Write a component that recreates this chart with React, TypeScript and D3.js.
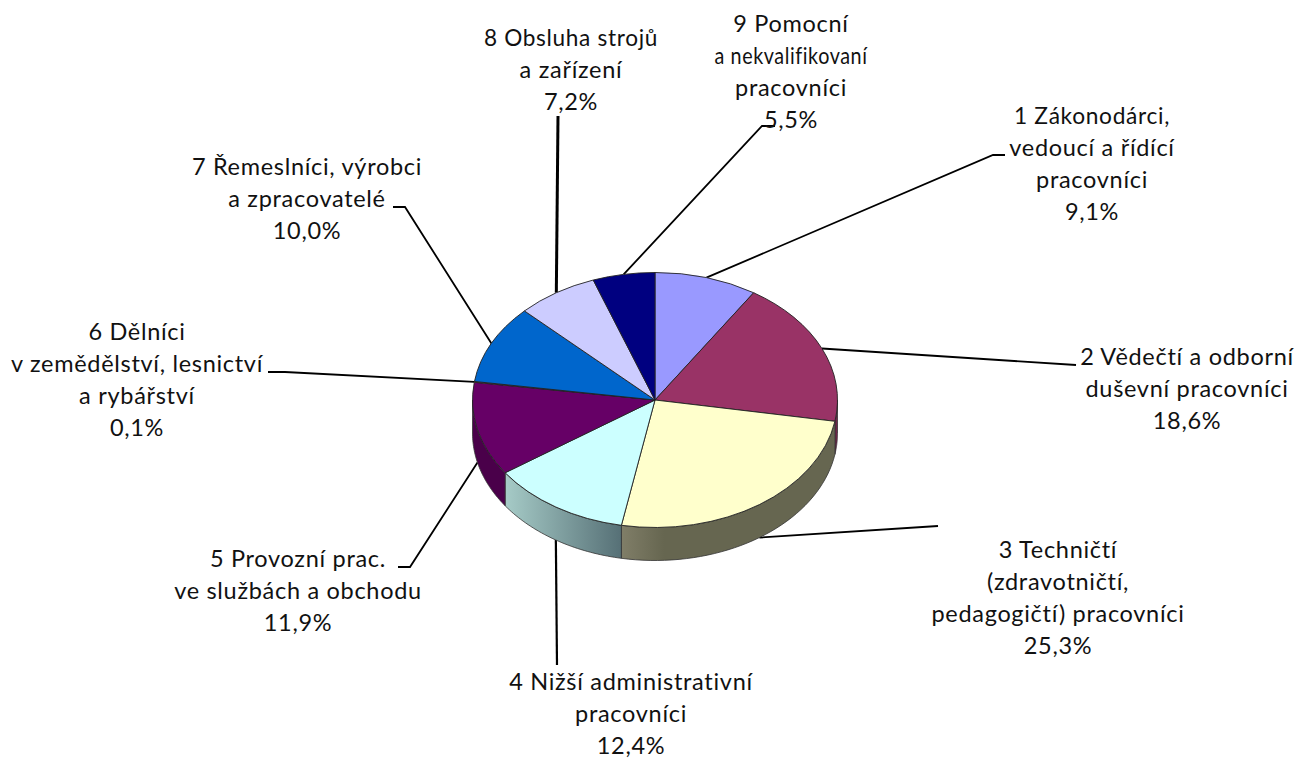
import React from "react";
import * as d3 from "d3";

const labels: string[][] = [
  ["1 Zákonodárci,", "vedoucí a řídící", "pracovníci", "9,1%"],
  ["2 Vědečtí a odborní", "duševní pracovníci", "18,6%"],
  ["3 Techničtí", "(zdravotničtí,", "pedagogičtí) pracovníci", "25,3%"],
  ["4 Nižší administrativní", "pracovníci", "12,4%"],
  ["5 Provozní prac.", "ve službách a obchodu", "11,9%"],
  ["6 Dělníci", "v zemědělství, lesnictví", "a rybářství", "0,1%"],
  ["7 Řemeslníci, výrobci", "a zpracovatelé", "10,0%"],
  ["8 Obsluha strojů", "a zařízení", "7,2%"],
  ["9 Pomocní", "a nekvalifikovaní", "pracovníci", "5,5%"],
];
const values = [9.1, 18.6, 25.3, 12.4, 11.9, 0.1, 10.0, 7.2, 5.5];
const colors = ["#9999FF", "#993366", "#FFFFCC", "#CCFFFF", "#660066", "#FF8080", "#0066CC", "#CCCCFF", "#000080"];
const wallFrom = ["#9999FF", "#6E2549", "#807E68", "#A6CBC7", "#4A004A", "#7a3a3a", "#0066CC", "#CCCCFF", "#000080"];
const wallTo = ["#9999FF", "#6E2549", "#666650", "#567076", "#4A004A", "#7a3a3a", "#0066CC", "#CCCCFF", "#000080"];
const labelX = [1092, 1187, 1058, 631, 298, 137, 307, 571, 791];
const labelY = [124, 365, 558, 690, 567, 340, 175, 46, 32];
const lineWidths: Record<string, number> = {
  "a nekvalifikovaní": 153,
  "8 Obsluha strojů": 174,
  "1 Zákonodárci,": 156,
};
const leaderElbow: ([number, number] | null)[] = [[993, 155], null, null, null, [410, 567], [285, 372], [405, 207], null, [762, 126]];
const leaderEnd: [number, number][] = [[1005, 155], [1076, 365], [938, 526], [557, 665], [398, 567], [268, 372], [393, 207], [558, 116], [775, 126]];
const leaderWidth = [1.8, 1.8, 1.8, 2.2, 1.8, 1.8, 1.8, 3, 1.8];

const cx = 655, cy = 400, rx = 182.5, ry = 127.5, depth = 33, lineH = 31.9;

const pie = d3.pie<number>().sort(null).value((d) => d);
const arcs = pie(values);
const arcGen = d3.arc<d3.PieArcDatum<number>>().innerRadius(0).outerRadius(rx);
const px = (t: number) => cx + rx * Math.sin(t);
const py = (t: number) => cy - ry * Math.cos(t);
const lineGen = d3.line();

function wallPath(a: number, b: number) {
  const s = Math.max(a, Math.PI / 2), e = Math.min(b, (3 * Math.PI) / 2);
  if (e <= s) return null;
  const ts = d3.range(0, 41).map((i) => s + ((e - s) * i) / 40);
  const top = ts.map((t) => [px(t), py(t)] as [number, number]);
  const bot = ts.slice().reverse().map((t) => [px(t), py(t) + depth] as [number, number]);
  return lineGen([...top, ...bot]) + "Z";
}

function anchor(a: d3.PieArcDatum<number>): [number, number] {
  const m = (a.startAngle + a.endAngle) / 2;
  const down = m > Math.PI / 2 && m < (3 * Math.PI) / 2;
  return [px(m), py(m) + (down ? depth : 0)];
}

export default function App() {
  return (
    <svg width={1295} height={758} style={{ position: "absolute", left: 0, top: 0, background: "#fff" }}>
      <defs>
        {arcs.map((_, i) => (
          <linearGradient key={i} id={`w${i}`} x1="0" x2="1" y1="0" y2="0">
            <stop offset="0" stopColor={wallFrom[i]} />
            <stop offset={i === 2 ? 0.2 : 1} stopColor={wallTo[i]} />
          </linearGradient>
        ))}
      </defs>
      {arcs.map((a, i) => {
        const pts = [anchor(a), ...(leaderElbow[i] ? [leaderElbow[i]!] : []), leaderEnd[i]];
        return <path key={i} d={lineGen(pts)!} fill="none" stroke="#000" strokeWidth={leaderWidth[i]} />;
      })}
      {arcs.map((a, i) => {
        const d = wallPath(a.startAngle, a.endAngle);
        return d ? <path key={i} d={d} fill={`url(#w${i})`} stroke="#333" strokeWidth={0.8} /> : null;
      })}
      <g transform={`translate(${cx},${cy}) scale(1,${ry / rx})`}>
        {arcs.map((a, i) => (
          <path key={i} d={arcGen(a)!} fill={colors[i]} stroke="#222" strokeWidth={0.9} vectorEffect="non-scaling-stroke" />
        ))}
      </g>
      <g fontFamily="Lato,sans-serif" fontSize={23.5} fill="#111" textAnchor="middle" letterSpacing={0.7}>
        {labels.map((ls, i) =>
          ls.map((t, j) => (
            <text
              key={`${i}-${j}`}
              x={labelX[i]}
              y={labelY[i] + j * lineH}
              {...(lineWidths[t] ? { textLength: lineWidths[t], lengthAdjust: "spacingAndGlyphs" } : {})}
            >
              {t}
            </text>
          ))
        )}
      </g>
    </svg>
  );
}
